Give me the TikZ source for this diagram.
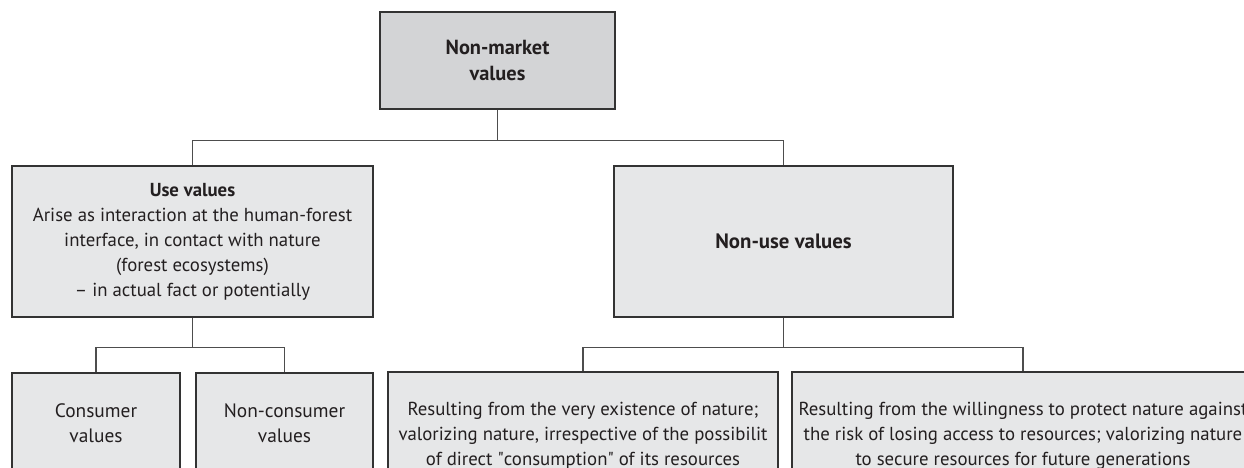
\documentclass[tikz,border=0pt]{standalone}
\usepackage{fontspec}
\setmainfont{PT Sans}
\definecolor{boxfill}{HTML}{E6E7E8}
\definecolor{topfill}{HTML}{D3D4D6}
\definecolor{edge}{HTML}{333333}
\definecolor{conn}{HTML}{4D4D4D}
\definecolor{txt}{HTML}{231F20}
\tikzset{
  box/.style={draw=edge, line width=0.65pt, fill=boxfill, rectangle, inner sep=0pt,
    align=center, text=txt, font=\fontsize{9.4}{12.6}\selectfont},
  topbox/.style={box, fill=topfill, font=\fontsize{10.2}{13}\selectfont\bfseries},
  link/.style={draw=conn, line width=0.75pt}
}
\begin{document}
\begin{tikzpicture}[x=0.5pt,y=-0.5pt]
\useasboundingbox (0,0) rectangle (1244,467);
\clip (0,0) rectangle (1244,467);
\node[topbox, minimum width=117.5pt, minimum height=48.5pt] (top) at (497.5,60.5)
  {Non-market\\values};
\node[box, font=\fontsize{9.4}{12.5}\selectfont, minimum width=180.5pt, minimum height=75.5pt] (use) at (192.5,241.5)
  {\textbf{Use values}\\Arise as interaction at the human-forest\\interface, in contact with nature\\(forest ecosystems)\\– in actual fact or potentially};
\node[box, font=\fontsize{10.4}{13}\selectfont\bfseries, minimum width=169.5pt, minimum height=75.5pt] (nonuse) at (783.5,241.5)
  {Non-use values};
\node[box, font=\fontsize{9.7}{12.6}\selectfont, minimum width=84pt, minimum height=50pt] (cons) at (96,423)
  {Consumer\\values};
\node[box, font=\fontsize{9.7}{12.6}\selectfont, minimum width=88.5pt, minimum height=50pt] (noncons) at (284.5,423)
  {Non-consumer\\values};
\node[box, minimum width=195pt, minimum height=64pt] (exist) at (583,436)
  {Resulting from the very existence of nature;\\valorizing nature, irrespective of the possibilit\\of direct \textquotedbl consumption\textquotedbl{} of its resources};
\node[box, minimum width=231pt, minimum height=64pt] (protect) at (1023,436)
  {Resulting from the willingness to protect nature against\\the risk of losing access to resources; valorizing nature\\to secure resources for future generations};
\draw[link] (top.south) -- ++(0,31) coordinate (j1);
\draw[link] (use.north) |- (j1) -| (nonuse.north);
\draw[link] (use.south) -- ++(0,30) coordinate (j2);
\draw[link] (cons.north) |- (j2) -| (noncons.north);
\draw[link] (nonuse.south) -- ++(0,30) coordinate (j3);
\draw[link] (exist.north) |- (j3) -| (protect.north);
\end{tikzpicture}
\end{document}
